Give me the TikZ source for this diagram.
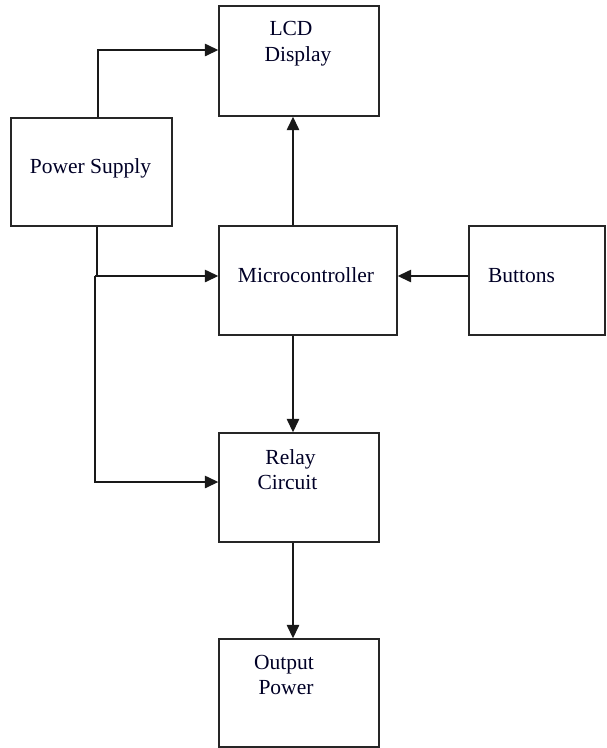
\documentclass[tikz,border=0pt]{standalone}
\usepackage{fontspec}
\setmainfont{Liberation Serif}
\usetikzlibrary{arrows.meta}
\begin{document}
\begin{tikzpicture}[x=1pt,y=-1pt,
  blockbox/.style={draw=black!85,line width=1.4pt,minimum width=#1,inner sep=0pt},
  lbl/.style={anchor=base,inner sep=0pt,font=\fontsize{21.5}{25}\selectfont,text=black!85!blue},
  arr/.style={draw=black!90,line width=1.4pt,-{Triangle[length=13.5pt,width=12.5pt]}},
  ln/.style={draw=black!90,line width=1.4pt}]
\useasboundingbox (0,0) rectangle (606,748);
% boxes
\node[blockbox=160pt,minimum height=110pt] (lcd) at (299,61) {};
\node[blockbox=161pt,minimum height=108pt] (ps) at (91.5,172) {};
\node[blockbox=178pt,minimum height=109pt] (mc) at (308,280.5) {};
\node[blockbox=136pt,minimum height=109pt] (bt) at (537,280.5) {};
\node[blockbox=160pt,minimum height=109pt] (rc) at (299,487.5) {};
\node[blockbox=160pt,minimum height=108pt] (op) at (299,693) {};
% labels
\node[lbl] (t1) at (291,35) {LCD};
\node[lbl] (t2) at (298,61.5) {Display};
\node[lbl] (t3) at (90.5,173) {Power Supply};
\node[lbl] (t4) at (306,282) {Microcontroller};
\node[lbl] (t5) at (521.5,282) {Buttons};
\node[lbl] (t6) at (290.5,464) {Relay};
\node[lbl] (t7) at (287.5,489) {Circuit};
\node[lbl] (t8) at (284,669) {Output};
\node[lbl] (t9) at (286,694) {Power};
% helper coordinates
\coordinate (xPS) at (98,0);
\coordinate (yLCD) at (0,50);
\coordinate (xMid) at (293,0);
\coordinate (yMC) at (0,276);
\coordinate (xDrop) at (97,0);
\coordinate (split) at (95,276);
\coordinate (yRC) at (0,482);
% connectors
\draw[arr] (ps.north -| xPS) |- (lcd.west |- yLCD);
\draw[arr] (mc.north -| xMid) -- (lcd.south -| xMid);
\draw[arr] (bt.west |- yMC) -- (mc.east |- yMC);
\draw[ln] (ps.south -| xDrop) -- (xDrop |- yMC);
\draw[arr] (split) -- (mc.west |- yMC);
\draw[arr] (split) |- (rc.west |- yRC);
\draw[arr] (mc.south -| xMid) -- (rc.north -| xMid);
\draw[arr] (rc.south -| xMid) -- (op.north -| xMid);
\end{tikzpicture}
\end{document}
